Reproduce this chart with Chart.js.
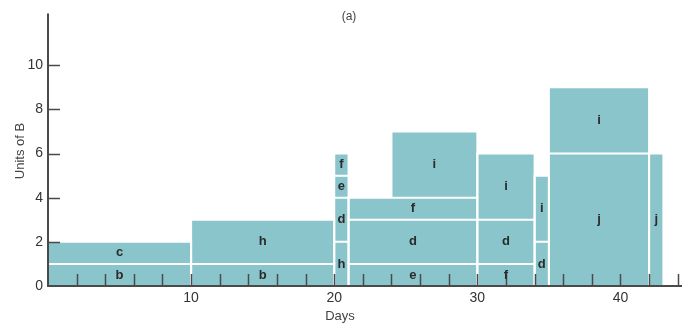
<!DOCTYPE html>
<html>
<head>
<meta charset="utf-8">
<script src="https://cdn.jsdelivr.net/npm/chart.js@4/dist/chart.umd.min.js"></script>
<style>
  html, body { margin: 0; padding: 0; background: #fff; }
  canvas { display: block; }
</style>
</head>
<body>
<canvas id="c" width="683" height="324"></canvas>
<script>
// Resource histogram: each block = one activity's use of resource B
const taskLabels = ['b', 'c', 'b', 'h', 'h', 'd', 'e', 'f', 'e', 'd', 'f', 'i', 'f', 'd', 'i', 'd', 'i', 'j', 'i', 'j'];
const startDay   = [0,   0,   10,  10,  20,  20,  20,  20,  21,  21,  21,  24,  30,  30,  30,  34,  34,  35,  35,  42];
const endDay     = [10,  10,  20,  20,  21,  21,  21,  21,  30,  30,  30,  30,  34,  34,  34,  35,  35,  42,  42,  43];
const unitsFrom  = [0,   1,   0,   1,   0,   2,   4,   5,   0,   1,   3,   4,   0,   1,   3,   0,   2,   0,   6,   0];
const unitsTo    = [1,   2,   1,   3,   2,   4,   5,   6,   1,   3,   4,   7,   1,   3,   6,   2,   5,   6,   9,   6];

const xTickValues = [10, 20, 30, 40];
const yTickValues = [0, 2, 4, 6, 8, 10];
const xMax = 44.3;
const yMax = 12.35;

const FILL = '#8bc5cc';
const AXIS = '#4a4a4a';

const datasets = taskLabels.map((lab, i) => ({
  label: lab,
  data: [
    { x: startDay[i], y: unitsFrom[i] },
    { x: startDay[i], y: unitsTo[i] },
    { x: endDay[i], y: unitsTo[i] },
    { x: endDay[i], y: unitsFrom[i] }
  ],
  fill: { value: unitsFrom[i] },
  backgroundColor: FILL,
  borderColor: '#ffffff',
  borderWidth: 2,
  pointRadius: 0,
  tension: 0
}));

const overlay = {
  id: 'overlay',
  afterDraw(chart) {
    const { ctx, chartArea, scales: { x, y } } = chart;
    ctx.save();
    // axis lines
    ctx.strokeStyle = AXIS;
    ctx.lineWidth = 2;
    ctx.beginPath();
    const x0 = x.getPixelForValue(0), y0 = y.getPixelForValue(0);
    ctx.moveTo(x0, y.getPixelForValue(yMax));
    ctx.lineTo(x0, y0);
    ctx.lineTo(x.getPixelForValue(xMax), y0);
    ctx.stroke();

    // inner tick marks
    ctx.lineWidth = 1.5;
    ctx.beginPath();
    for (let v = 2; v <= 44; v += 2) {
      const px = Math.round(x.getPixelForValue(v)) + 0.5;
      ctx.moveTo(px, chartArea.bottom);
      ctx.lineTo(px, chartArea.bottom - 12);
    }
    for (let v = 2; v <= 10; v += 2) {
      const py = Math.round(y.getPixelForValue(v)) + 0.5;
      ctx.moveTo(chartArea.left, py);
      ctx.lineTo(chartArea.left + 12, py);
    }
    ctx.stroke();

    // block labels
    ctx.fillStyle = '#2b2b2b';
    ctx.font = 'bold 13px "Liberation Sans", Arial, sans-serif';
    ctx.textAlign = 'center';
    ctx.textBaseline = 'middle';
    taskLabels.forEach((lab, i) => {
      const cx = x.getPixelForValue((startDay[i] + endDay[i]) / 2);
      const cy = y.getPixelForValue((unitsFrom[i] + unitsTo[i]) / 2);
      ctx.fillText(lab, cx, cy);
    });

    // titles
    ctx.fillStyle = '#444';
    ctx.font = '12px "Liberation Sans Narrow", "Liberation Sans", Arial, sans-serif';
    ctx.fillText('(a)', 349, 17);
    ctx.font = '13px "Liberation Sans Narrow", "Liberation Sans", Arial, sans-serif';
    ctx.fillText('Days', 340, 316);
    ctx.translate(20, 151);
    ctx.rotate(-Math.PI / 2);
    ctx.fillText('Units of B', 0, 0);
    ctx.restore();
  }
};

new Chart(document.getElementById('c'), {
  type: 'line',
  data: { datasets },
  options: {
    responsive: false,
    animation: false,
    devicePixelRatio: 1,
    layout: { padding: { top: 13, right: 1, left: 0, bottom: 0 } },
    plugins: {
      legend: { display: false },
      tooltip: { enabled: false },
      filler: { drawTime: 'beforeDatasetsDraw', propagate: false }
    },
    scales: {
      x: {
        type: 'linear',
        min: 0,
        max: xMax,
        afterFit: s => { s.height = 38; },
        afterBuildTicks: s => { s.ticks = xTickValues.map(v => ({ value: v })); },
        grid: { display: false, drawTicks: false },
        border: { display: false },
        ticks: {
          autoSkip: false,
          maxRotation: 0,
          padding: 4,
          color: '#333',
          font: { family: '"Liberation Sans Narrow", "Liberation Sans", Arial, sans-serif', size: 14 }
        }
      },
      y: {
        type: 'linear',
        min: 0,
        max: yMax,
        afterFit: s => { s.width = 48; },
        afterBuildTicks: s => { s.ticks = yTickValues.map(v => ({ value: v })); },
        grid: { display: false, drawTicks: false },
        border: { display: false },
        ticks: {
          autoSkip: false,
          padding: 5,
          color: '#333',
          font: { family: '"Liberation Sans Narrow", "Liberation Sans", Arial, sans-serif', size: 14 }
        }
      }
    }
  },
  plugins: [overlay]
});
</script>
</body>
</html>
